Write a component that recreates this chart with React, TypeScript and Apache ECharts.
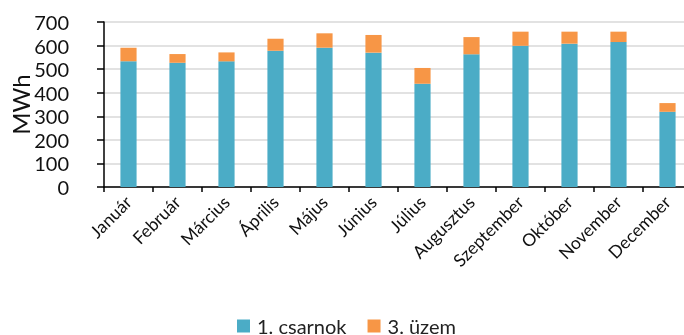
import React, { useEffect, useRef } from "react";
import * as echarts from "echarts";

const months = ["Január", "Február", "Március", "Április", "Május", "Június", "Július", "Augusztus", "Szeptember", "Október", "November", "December"];
const csarnok1 = [533, 527, 533, 578, 591, 570, 438, 563, 599, 608, 615, 319];
const uzem3 = [58, 37, 38, 51, 61, 75, 67, 73, 60, 51, 44, 37];
const seriesNames = ["1. csarnok", "3. üzem"];
const yTicks = { min: 0, max: 700, interval: 100 };
const yTitle = "MWh";

const FONT = "Lato";

export default function App() {
  const ref = useRef<HTMLDivElement>(null);
  useEffect(() => {
    const chart = echarts.init(ref.current!, null, { renderer: "svg" });
    chart.setOption({
      animation: false,
      textStyle: { fontFamily: FONT },
      grid: { left: 104, top: 22, width: 588, height: 165, containLabel: false, outerBoundsMode: "none" },
      legend: {
        top: 316,
        left: 237,
        padding: 0,
        itemWidth: 13,
        itemHeight: 13,
        itemGap: 21,
        icon: "rect",
        textStyle: { fontFamily: FONT, fontSize: 20, color: "#222", padding: [0, 0, 0, 2] },
        data: seriesNames,
      },
      xAxis: {
        type: "category",
        data: months,
        boundaryGap: true,
        axisLine: { lineStyle: { color: "#000", width: 1.5 } },
        axisTick: { show: true, length: 5, alignWithLabel: false, lineStyle: { color: "#000", width: 1.5 } },
        axisLabel: { rotate: 45, margin: 12, fontFamily: FONT, fontSize: 17.5, color: "#111", interval: 0 },
      },
      yAxis: {
        type: "value",
        min: yTicks.min,
        max: yTicks.max,
        interval: yTicks.interval,
        name: yTitle,
        nameLocation: "middle",
        nameGap: 72,
        nameRotate: 90,
        nameMoveOverlap: false,
        nameTextStyle: { fontFamily: FONT, fontSize: 24, color: "#111" },
        axisLine: { show: true, lineStyle: { color: "#000", width: 1.5 } },
        axisTick: { show: true, length: 7, lineStyle: { color: "#000", width: 1.5 } },
        axisLabel: { margin: 35, fontFamily: FONT, fontSize: 20, color: "#111" },
        splitLine: { lineStyle: { color: "#D9D9D9", width: 1.5 } },
      },
      series: [
        {
          name: seriesNames[0],
          type: "bar",
          stack: "total",
          data: csarnok1,
          barWidth: "33%",
          itemStyle: { color: "#4BACC6" },
        },
        {
          name: seriesNames[1],
          type: "bar",
          stack: "total",
          data: uzem3,
          barWidth: "33%",
          itemStyle: { color: "#F79646" },
        },
      ],
    });
    return () => chart.dispose();
  }, []);
  return <div ref={ref} style={{ position: "fixed", left: 0, top: 0, width: 684, height: 335 }} />;
}
